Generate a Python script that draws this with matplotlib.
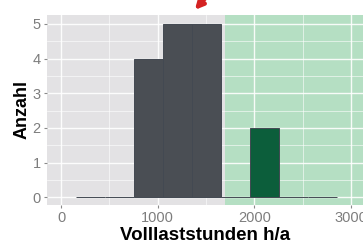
import numpy as np
import matplotlib
matplotlib.use('Agg')
import matplotlib.pyplot as plt
from matplotlib.ticker import MultipleLocator

# histogram bins (left edges, width 300) and counts
bin_left = [150, 450, 750, 1050, 1350, 1650, 1950, 2250, 2550]
counts = [0, 0, 4, 5, 5, 0, 2, 0, 0]
bin_width = 300
threshold = 1690   # start of green area

x_ticks = [0, 1000, 2000, 3000]
y_ticks = [0, 1, 2, 3, 4, 5]

plt.rcParams['font.family'] = ['Liberation Sans', 'DejaVu Sans']

fig = plt.figure(figsize=(3.63, 2.44), dpi=100)
ax = fig.add_axes([0.1295, 0.16, 0.878, 0.7787])

ax.set_facecolor('#e3e2e4')
ax.axvspan(threshold, 3400, color='#b5dfc3', zorder=0.2, lw=0)

cols = ['#4a4e54' if b + bin_width <= threshold else '#0c5e3b' for b in bin_left]
ax.bar(bin_left, counts, width=bin_width, align='edge', color=cols,
       edgecolor='#434952', linewidth=0.7, zorder=2)

ax.set_xlim(-145, 3150)
ax.set_ylim(-0.22, 5.26)
ax.set_xticks(x_ticks)
ax.set_yticks(y_ticks)
ax.xaxis.set_minor_locator(MultipleLocator(500))
ax.yaxis.set_minor_locator(MultipleLocator(0.5))
ax.set_axisbelow(True)
ax.grid(which='major', color='white', lw=1.0, alpha=0.9)
ax.grid(which='minor', color='white', lw=0.5, alpha=0.8)
for s in ax.spines.values():
    s.set_visible(False)
ax.tick_params(which='major', length=2.5, color='#8a8a8a', labelcolor='#7d7d7d',
               labelsize=10.5, pad=2)
ax.tick_params(which='minor', length=0)

fig.text(0.565, 0.033, 'Volllaststunden h/a', fontsize=13.5, fontweight='bold',
         ha='center', va='center')
fig.text(0.062, 0.55, 'Anzahl', fontsize=13, fontweight='bold', rotation=90,
         ha='center', va='center')

# red arrow fragment at the top
ax.annotate('', xy=(193, 232), xytext=(209, 250), xycoords='figure pixels',
            textcoords='figure pixels', annotation_clip=False,
            arrowprops=dict(arrowstyle='-|>', color='#d42222', lw=3, mutation_scale=12))

fig.savefig('out.png', dpi=100)
